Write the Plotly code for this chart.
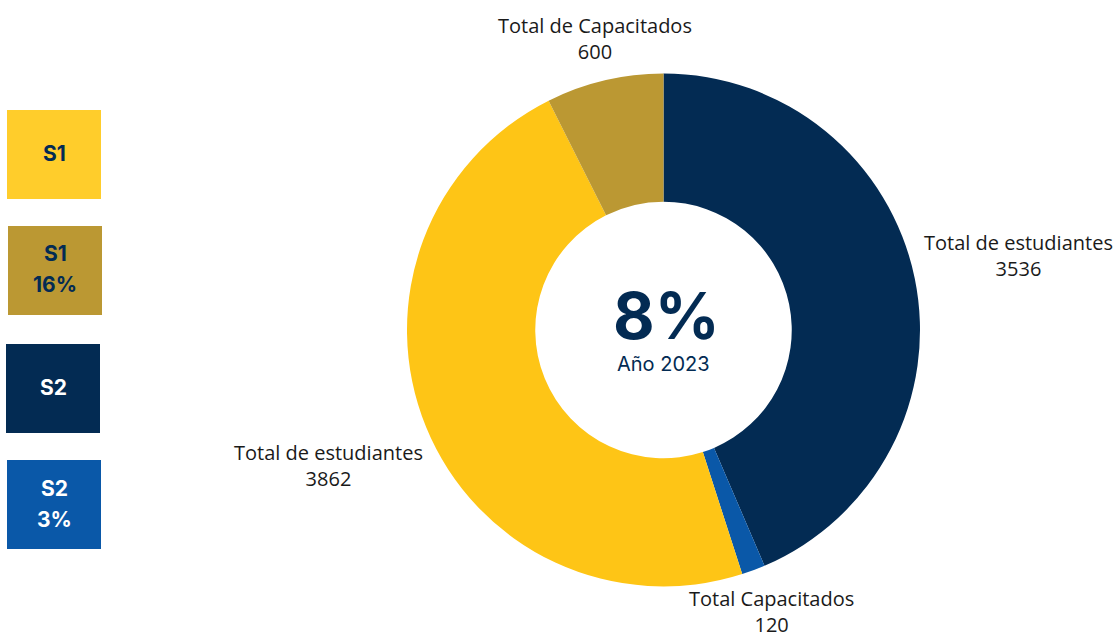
import plotly.graph_objects as go

# Data
slice_ids = ["S2 estudiantes", "S2 capacitados", "S1 estudiantes", "S1 capacitados"]
slice_names = ["Total de estudiantes", "Total Capacitados", "Total de estudiantes", "Total de Capacitados"]
slice_values = [3536, 120, 3862, 600]
slice_colors = ["#032B53", "#0A58A8", "#FEC516", "#BB9833"]

center_value = "8%"
center_caption = "Año 2023"

legend_line1 = ["S1", "S1", "S2", "S2"]
legend_line2 = ["", "16%", "", "3%"]
legend_fill = ["#FFCD2B", "#BB9833", "#032B53", "#0A58A8"]
legend_text_color = ["#032B53", "#032B53", "#FFFFFF", "#FFFFFF"]

W, H = 1120, 637

fig = go.Figure(go.Pie(
    labels=slice_ids,
    values=slice_values,
    textinfo="none",
    hole=0.5,
    sort=False,
    direction="clockwise",
    rotation=0,
    marker=dict(colors=slice_colors, line=dict(width=0)),
    domain=dict(x=[407 / W, 920 / W], y=[1 - 587 / H, 1 - 73 / H]),
    showlegend=False,
    hoverinfo="skip",
))

# outside slice labels (pixel centres)
label_pos = [(1018, 256), (771, 611), (328, 465), (595, 39)]
for (px, py), name, val in zip(label_pos, slice_names, slice_values):
    fig.add_annotation(xref="paper", yref="paper", x=px / W, y=1 - py / H,
                       text=f"{name}<br>{val}", showarrow=False,
                       xanchor="center", yanchor="middle",
                       font=dict(family="Open Sans", size=20, color="#1a1a1a"))

# legend boxes
box_tops = [110, 226, 344, 460]
box_lefts = [7, 8, 6, 7]
for i in range(4):
    x0 = box_lefts[i]
    y0 = box_tops[i]
    fig.add_shape(type="rect", xref="paper", yref="paper",
                  x0=x0 / W, x1=(x0 + 94) / W,
                  y0=1 - (y0 + 89) / H, y1=1 - y0 / H,
                  fillcolor=legend_fill[i], line=dict(width=0), layer="below")
    cx = (x0 + 47) / W
    if legend_line2[i]:
        lines = [(legend_line1[i], y0 + 28), (legend_line2[i], y0 + 59)]
    else:
        lines = [(legend_line1[i], y0 + 43)]
    for t, yy in lines:
        fig.add_annotation(xref="paper", yref="paper", x=cx, y=1 - yy / H,
                           text=f"<b>{t}</b>", showarrow=False,
                           xanchor="center", yanchor="middle",
                           font=dict(family="Inter", size=21, color=legend_text_color[i]))

# center texts
fig.add_annotation(xref="paper", yref="paper", x=666 / W, y=1 - 316 / H,
                   text=f"<b>{center_value}</b>", showarrow=False,
                   xanchor="center", yanchor="middle",
                   font=dict(family="Inter", size=64, color="#032B53"))
fig.add_annotation(xref="paper", yref="paper", x=663 / W, y=1 - 364 / H,
                   text=center_caption, showarrow=False,
                   xanchor="center", yanchor="middle",
                   font=dict(family="Inter", size=20, color="#032B53"))

fig.update_layout(
    width=W, height=H,
    margin=dict(l=0, r=0, t=0, b=0),
    paper_bgcolor="white", plot_bgcolor="white",
)

fig.write_html("out.html", config={"displayModeBar": False},
               post_script="document.body.style.margin='0px';")
